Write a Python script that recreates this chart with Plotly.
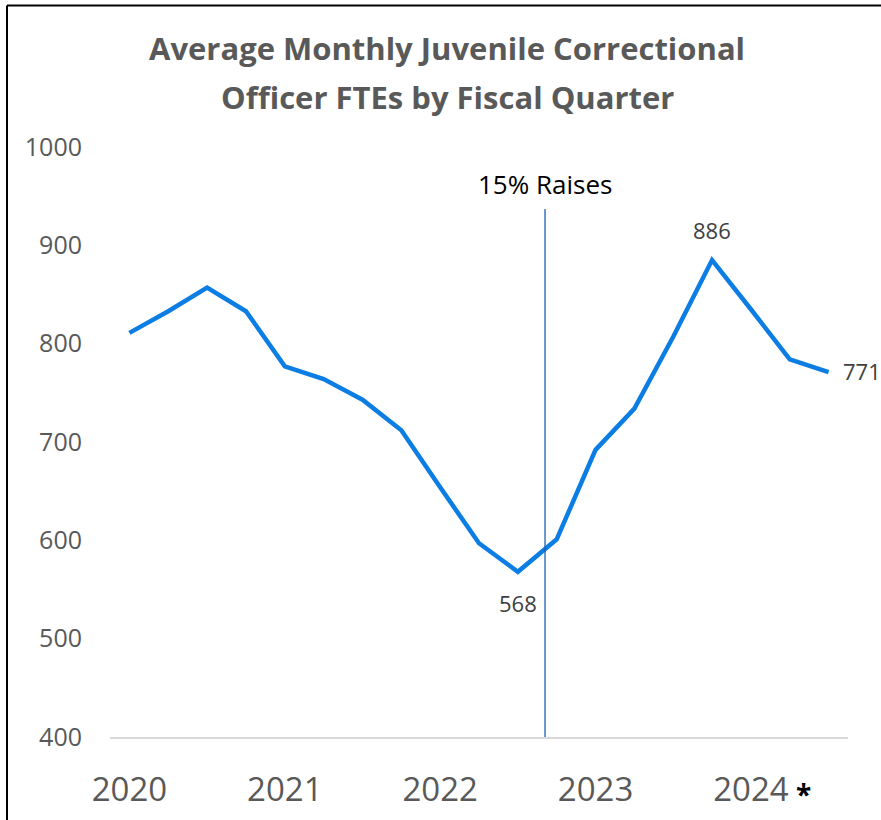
import plotly.graph_objects as go

# ---- data ----
quarter_index = list(range(19))
fte_values = [811, 833, 857, 833, 777, 764, 743, 712, 654, 597, 568, 601,
              692, 734, 807, 885, 835, 784, 771]
tick_positions = [0, 4, 8, 12, 16]
tick_labels = ["2020", "2021", "2022", "2023", "2024"]
raise_position = 10.7
labelled_points = {10: "568", 15: "886", 18: "771"}

W, H = 881, 820
L, R, T, B = 110, 33, 147, 83
pw, ph = W - L - R, H - T - B

fig = go.Figure()
fig.add_trace(go.Scatter(
    x=quarter_index, y=fte_values, mode="lines",
    line=dict(color="#0B7DE3", width=4.5), hoverinfo="skip", showlegend=False))

ann = []
def px2paper(x, y):
    return (x - L) / pw, (H - B - y) / ph

for txt, yy in [("Average Monthly Juvenile Correctional", 48),
                ("Officer FTEs by Fiscal Quarter", 97)]:
    xp, yp = px2paper(447, yy)
    ann.append(dict(x=xp, y=yp, xref="paper", yref="paper", text=txt,
                    showarrow=False, xanchor="center", yanchor="middle",
                    font=dict(family="Open Sans", size=31, color="#595959", weight="bold")))

shifts = {10: (0, -31, "center"), 15: (0, 30, "center"), 18: (12, 1, "left")}
for i, t in labelled_points.items():
    dx, dy, xa = shifts[i]
    ann.append(dict(x=quarter_index[i], y=fte_values[i], text=t, showarrow=False,
                    xanchor=xa, yanchor="middle", xshift=dx, yshift=dy,
                    font=dict(family="Open Sans", size=22, color="#404040")))

xp, yp = px2paper(0, 184)
ann.append(dict(x=raise_position, y=yp, xref="x", yref="paper", text="15% Raises",
                showarrow=False, xanchor="center", yanchor="middle",
                font=dict(family="Open Sans", size=26, color="#000000")))

xp, yp = px2paper(803, 794)
ann.append(dict(x=xp, y=yp, xref="paper", yref="paper", text="<b>*</b>", showarrow=False,
                xanchor="center", yanchor="middle",
                font=dict(family="Open Sans", size=28, color="#000000")))

shapes = []
_, ytop = px2paper(0, 209)
shapes.append(dict(type="line", xref="x", yref="paper", x0=raise_position, x1=raise_position,
                   y0=0, y1=ytop, line=dict(color="#1A5FB4", width=1.3)))
xl, ytp = px2paper(7, 5.5)
xr, _ = px2paper(W + 2, 5.5)
_, ybt = px2paper(7, H + 2)
shapes.append(dict(type="line", xref="paper", yref="paper", x0=xl, x1=xr, y0=ytp, y1=ytp,
                   line=dict(color="#000000", width=2)))
shapes.append(dict(type="line", xref="paper", yref="paper", x0=xl, x1=xl, y0=ybt, y1=ytp,
                   line=dict(color="#000000", width=2)))

fig.update_layout(
    width=W, height=H, margin=dict(l=L, r=R, t=T, b=B, autoexpand=False),
    paper_bgcolor="white", plot_bgcolor="white",
    annotations=ann, shapes=shapes, showlegend=False,
    xaxis=dict(range=[-0.5, 18.5], tickmode="array", tickvals=tick_positions,
               ticktext=tick_labels, showgrid=False, zeroline=False,
               showline=True, linecolor="#D9D9D9", linewidth=1.5,
               ticks="", ticklabelstandoff=23, automargin=False,
               tickfont=dict(family="Open Sans", size=33, color="#595959")),
    yaxis=dict(range=[400, 1000], tickmode="array", tickvals=[400, 500, 600, 700, 800, 900, 1000],
               showgrid=False, zeroline=False, showline=False, ticks="",
               ticklabelstandoff=27, automargin=False,
               tickfont=dict(family="Open Sans", size=25, color="#595959")),
)

fig.write_html("out.html", config={"displayModeBar": False},
               post_script="document.body.style.margin='0';document.body.style.overflow='hidden';")
